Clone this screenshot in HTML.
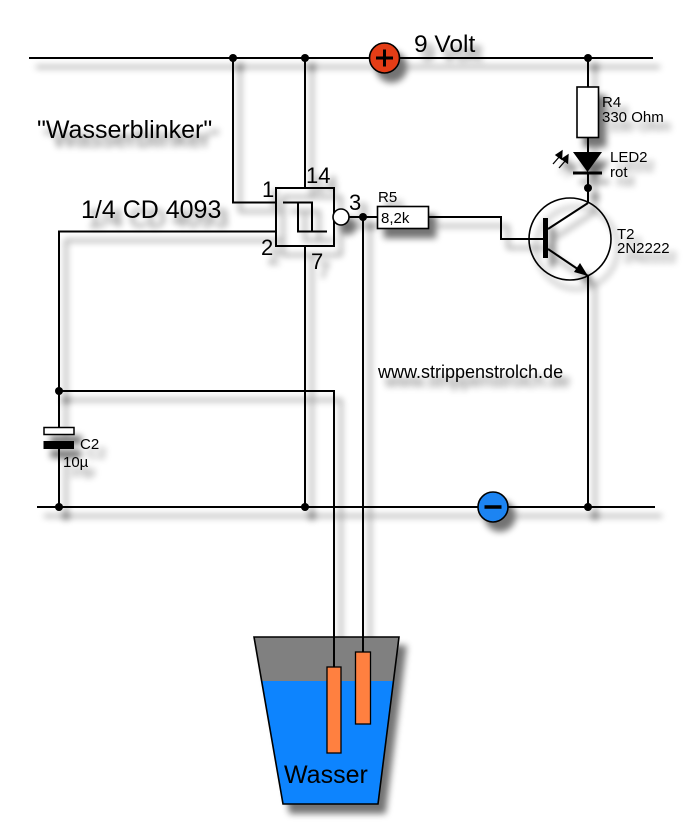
<!DOCTYPE html>
<html><head><meta charset="utf-8"><style>
html,body{margin:0;padding:0;background:#fff;}
svg{display:block;}
text{font-family:"Liberation Sans",Arial,sans-serif;fill:#000;}
</style></head><body>
<svg width="700" height="834" viewBox="0 0 700 834" xmlns="http://www.w3.org/2000/svg">
<defs>
<filter id="sh" x="-10%" y="-10%" width="130%" height="130%">
<feGaussianBlur in="SourceAlpha" stdDeviation="3.5" result="b"/>
<feOffset in="b" dx="7" dy="9" result="o"/>
<feComponentTransfer in="o" result="o2"><feFuncA type="linear" slope="0.55"/></feComponentTransfer>
<feMerge><feMergeNode in="o2"/><feMergeNode in="SourceGraphic"/></feMerge>
</filter>
</defs>
<rect width="700" height="834" fill="#fff"/>
<g filter="url(#sh)">
<!-- bucket -->
<polygon points="254,637 399,637 393.5,681 261.6,681" fill="#808080"/>
<polygon points="261.6,681 393.5,681 378,804 283,804" fill="#0a84fe"/>
<polygon points="254,637 399,637 378,804 283,804" fill="none" stroke="#000" stroke-width="1.6"/>
<g stroke="#000" stroke-width="2" fill="none">
<line x1="29" y1="58" x2="653" y2="58"/>
<polyline points="233,58 233,202.5 276,202.5"/>
<line x1="305" y1="58" x2="305" y2="188"/>
<line x1="305" y1="246" x2="305" y2="507"/>
<polyline points="276,231.5 59,231.5 59,428"/>
<line x1="59" y1="449" x2="59" y2="507"/>
<polyline points="59,391 334,391 334,667"/>
<line x1="349" y1="217" x2="378" y2="217"/>
<line x1="363" y1="217" x2="363" y2="652"/>
<polyline points="428.5,217 501,217 501,239 543,239"/>
<line x1="548" y1="229" x2="588" y2="203"/>
<line x1="588" y1="203" x2="588" y2="173"/>
<line x1="548" y1="249" x2="588" y2="276"/>
<line x1="588" y1="276" x2="588" y2="507"/>
<line x1="588" y1="58" x2="588" y2="87"/>
<line x1="588" y1="137.5" x2="588" y2="152"/>
<line x1="37" y1="507" x2="655" y2="507"/>
<circle cx="570" cy="239" r="41" stroke-width="1.6"/>
</g>
<rect x="327" y="667" width="14" height="86" fill="#ff8040" stroke="#000" stroke-width="1.3"/>
<rect x="355.5" y="652" width="15" height="72" fill="#ff8040" stroke="#000" stroke-width="1.3"/>
<!-- gate -->
<rect x="276" y="188" width="58" height="58" fill="none" stroke="#000" stroke-width="2"/>
<polyline points="283,202.5 312,202.5 312,231.5" fill="none" stroke="#000" stroke-width="2"/>
<polyline points="298,202.5 298,231.5 327,231.5" fill="none" stroke="#000" stroke-width="2"/>
<circle cx="341" cy="217" r="8" fill="#fff" stroke="#000" stroke-width="1.6"/>
<!-- R5 -->
<rect x="377.5" y="206.5" width="51" height="22" fill="#fff" stroke="#000" stroke-width="1.6"/>
<!-- R4 -->
<rect x="577" y="87" width="21.5" height="50.5" fill="#fff" stroke="#000" stroke-width="1.6"/>
<!-- LED -->
<polygon points="573,152 602,152 587.5,172" fill="#000"/>
<rect x="573" y="171.5" width="29" height="3" fill="#000"/>
<g stroke="#000" stroke-width="1.3" fill="#000">
<line x1="553" y1="164" x2="560" y2="156"/>
<polygon points="562,151 561.5,159 556,155"/>
<line x1="559" y1="168" x2="566" y2="160"/>
<polygon points="568,155 567.5,163 562,159"/>
</g>
<!-- transistor -->
<rect x="543" y="218" width="5" height="40" fill="#000"/>
<polygon points="588,276 574,272 580,263" fill="#000"/>
<!-- capacitor -->
<rect x="44" y="427.5" width="30" height="7" fill="#fff" stroke="#000" stroke-width="1.5"/>
<rect x="43.5" y="441" width="30.5" height="8" fill="#000"/>
<!-- dots -->
<g fill="#000">
<circle cx="233" cy="58" r="4"/>
<circle cx="305" cy="58" r="4"/>
<circle cx="588" cy="58" r="4"/>
<circle cx="363" cy="217" r="4"/>
<circle cx="588" cy="188" r="4"/>
<circle cx="59" cy="391" r="4"/>
<circle cx="59" cy="507" r="4"/>
<circle cx="305" cy="507" r="4"/>
<circle cx="588" cy="507" r="4"/>
</g>
<!-- plus -->
<circle cx="384.5" cy="58" r="15" fill="#e43d16" stroke="#000" stroke-width="1.6"/>
<line x1="376" y1="58" x2="393" y2="58" stroke="#000" stroke-width="3"/>
<line x1="384.5" y1="49.5" x2="384.5" y2="66.5" stroke="#000" stroke-width="3"/>
<!-- minus -->
<circle cx="493" cy="507" r="15" fill="#1a84f2" stroke="#000" stroke-width="1.6"/>
<line x1="484.5" y1="507" x2="501.5" y2="507" stroke="#000" stroke-width="3.5"/>
<!-- text -->
<text x="414" y="52" font-size="24.5">9 Volt</text>
<text x="37" y="138" font-size="25">"Wasserblinker"</text>
<text x="81" y="218" font-size="25">1/4 CD 4093</text>
<text x="262" y="197" font-size="22">1</text>
<text x="306" y="183" font-size="22">14</text>
<text x="261" y="255" font-size="22">2</text>
<text x="311" y="269" font-size="22">7</text>
<text x="349" y="210" font-size="22">3</text>
<text x="378" y="202" font-size="15">R5</text>
<text x="381" y="223" font-size="15">8,2k</text>
<text x="602" y="107" font-size="15">R4</text>
<text x="602" y="122" font-size="15">330 Ohm</text>
<text x="610" y="162" font-size="15">LED2</text>
<text x="610" y="177" font-size="15">rot</text>
<text x="617" y="239" font-size="15">T2</text>
<text x="617" y="253" font-size="15">2N2222</text>
<text x="378" y="378" font-size="18">www.strippenstrolch.de</text>
<text x="80" y="449" font-size="15">C2</text>
<text x="63" y="467" font-size="15">10µ</text>
<text x="284" y="783" font-size="25">Wasser</text>
</g>
</svg>
</body></html>
